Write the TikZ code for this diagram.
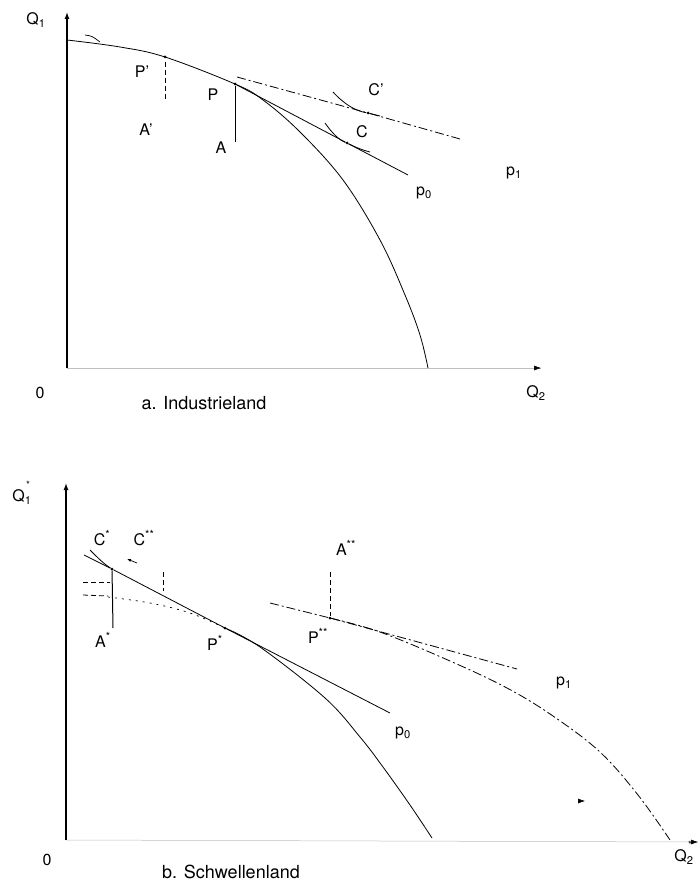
\documentclass[tikz,border=0pt]{standalone}
\usepackage{fontspec}
\setmainfont{TeX Gyre Heros}
\usetikzlibrary{arrows.meta}
\begin{document}
\begin{tikzpicture}[x=1pt,y=-1pt,
  axisline/.style={line width=1.3pt},
  faintaxis/.style={line width=0.5pt,black!25},
  curve/.style={line width=0.8pt},
  priceline/.style={line width=0.8pt},
  brokenline/.style={line width=0.8pt,dash pattern=on 9pt off 3pt on 2pt off 3pt},
  dotline/.style={line width=0.7pt,dash pattern=on 2pt off 5pt},
  dashline/.style={line width=0.8pt,dash pattern=on 5pt off 3pt},
  tipstyle/.style={-{Latex[length=7pt,width=5pt]}},
  pt/.style={circle,fill=black,inner sep=0pt,minimum size=3pt},
  lbl/.style={font=\fontsize{16}{18}\selectfont,inner sep=0pt},
  startext/.style={font=\fontsize{10}{10}\selectfont,inner sep=0pt,anchor=south west},
  captext/.style={font=\fontsize{18}{20}\selectfont,inner sep=0pt}]
\useasboundingbox (0,0) rectangle (699,885);

%================ panel a =================
\coordinate (oa) at (67,368);
\coordinate (ya) at (67,12);
\coordinate (xa) at (541,368);
\draw[faintaxis] (oa) -- (xa);
\draw[axisline,tipstyle] (oa) -- (ya);
\draw[tipstyle,line width=0.5pt] (534,368) -- (xa);

% production possibility frontier a
\draw[curve] plot[smooth,tension=0.6] coordinates {(67,40) (120,47) (165,57) (235,84) (263,100) (300,132) (343,180) (380,240) (405,295) (420,335) (428,368)};
\draw[line width=0.7pt] (85,35) .. controls (92,36) .. (100,42);

\node[pt] (Pa) at (235,84) {};
\node[pt] (Pqa) at (165,57) {};
\node[pt] (Ca) at (347,143) {};
\node[pt] (Cqa) at (368,113) {};
\coordinate (p0aend) at (408,175);
\coordinate (p1astart) at (237,77);
\coordinate (p1aend) at (460,139);
\coordinate (Aabot) at (235,142);
\coordinate (Aqtop) at (165,62);
\coordinate (Aqbot) at (165,100);

\draw[priceline] (Pa) -- (Ca) -- (p0aend);
\draw[brokenline] (p1astart) -- (Cqa) -- (p1aend);
\draw[line width=1pt] (Pa) -- (Aabot);
\draw[dashline] (Aqtop) -- (Aqbot);
% indifference curves
\draw[curve] (333,92) .. controls (345,105) and (356,111) .. (Cqa) .. controls (372,114) and (376,115) .. (380,116);
\draw[curve] (325,123) .. controls (332,133) and (339,140) .. (Ca) .. controls (355,147) and (362,150) .. (370,152);

\node[lbl] (lQ1) at (36,20) {Q\textsubscript{1}};
\node[lbl] (lPq) at (142,72) {P'};
\node[lbl] (lP) at (213,95) {P};
\node[lbl] (lAq) at (146,130) {A'};
\node[lbl] (lA) at (221,148) {A};
\node[lbl] (lCq) at (376,90) {C'};
\node[lbl] (lC) at (362,132) {C};
\node[lbl] (lp0a) at (424,193) {p\textsubscript{0}};
\node[lbl] (lp1a) at (514,173) {p\textsubscript{1}};
\node[lbl] (l0a) at (40,393) {0};
\node[captext] (capa) at (204,403) {a. Industrieland};
\node[lbl] (lQ2) at (536,393) {Q\textsubscript{2}};

%================ panel b =================
\coordinate (ob) at (66,840);
\coordinate (yb) at (66,483);
\coordinate (xb) at (698,842);
\draw[faintaxis] (ob) -- (xb);
\draw[axisline,tipstyle] (ob) -- (yb);
\draw[tipstyle,line width=0.5pt] (691,842) -- (xb);
\draw[tipstyle,line width=0.5pt] (578,801) -- (585,801);

\node[pt] (Cs) at (112,569) {};
\node[pt] (Ps) at (225,628) {};
\node[pt] (Pss) at (330,618) {};
\coordinate (p0bstart) at (84,555);
\coordinate (p0bend) at (390,713);
\coordinate (p1bstart) at (270,603);
\coordinate (p1bend) at (517,669);
\coordinate (Asbot) at (113,628);
\coordinate (Asstop) at (330,572);

% frontier b (before trade part dotted)
\draw[dashline] (83,595) -- (108,596);
\draw[dotline] plot[smooth,tension=0.6] coordinates {(108,597) (150,603) (190,613) (Ps)};
\draw[curve] plot[smooth,tension=0.6] coordinates {(Ps) (260,647) (325,698) (360,737) (383,767) (410,805) (432,838)};
% shifted frontier b
\draw[brokenline] plot[smooth,tension=0.6] coordinates {(Pss) (380,632) (450,661) (507,688) (553,716) (600,752) (638,795) (670,840)};

\draw[priceline] (p0bstart) -- (Cs) -- (Ps) -- (p0bend);
\draw[brokenline] (p1bstart) -- (Pss) -- (p1bend);
\draw[curve] (90,550) .. controls (98,558) and (104,564) .. (Cs);
\draw[line width=1pt] (Cs) -- (Asbot);
\draw[dashline] (83,582) -- (110,582);
\draw[dashline] (163,572) -- (163,591);
\draw[dashline] (Asstop) -- (Pss);
\draw[-{Latex[length=4pt,width=3pt]},line width=0.7pt] (137,563) -- (127,559);

\node[lbl] (lQ1s) at (22,497) {Q\textsubscript{1}};
\node[startext] (lQ1star) at (26,489) {*};
\node[lbl] (lCs) at (102,538) {C\textsuperscript{*}};
\node[lbl] (lCss) at (144,538) {C\textsuperscript{**}};
\node[lbl] (lAs) at (103,640) {A\textsuperscript{*}};
\node[lbl] (lPs) at (215,643) {P\textsuperscript{*}};
\node[lbl] (lAss) at (346,548) {A\textsuperscript{**}};
\node[lbl] (lPss) at (318,636) {P\textsuperscript{**}};
\node[lbl] (lp0b) at (403,733) {p\textsubscript{0}};
\node[lbl] (lp1b) at (564,683) {p\textsubscript{1}};
\node[lbl] (l0b) at (47,860) {0};
\node[captext] (capb) at (231,872) {b. Schwellenland};
\node[lbl] (lQ2s) at (684,857) {Q\textsubscript{2}};
\node[startext] (lQ2star) at (688,849) {*};
\end{tikzpicture}
\end{document}
